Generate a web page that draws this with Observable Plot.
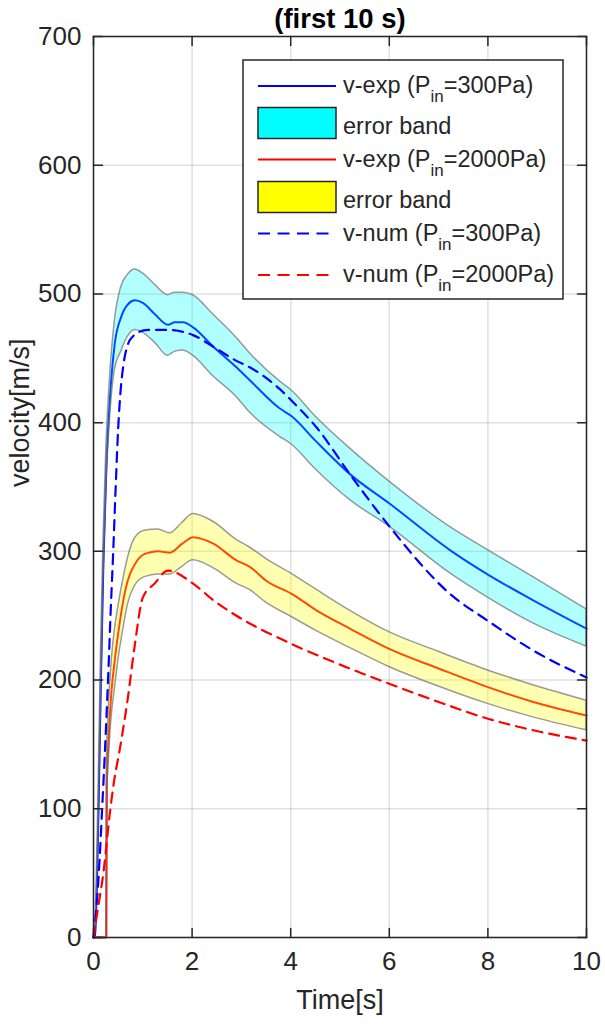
<!DOCTYPE html>
<html lang="en">
<head>
<meta charset="UTF-8">
<script src="https://cdn.jsdelivr.net/npm/d3@7"></script>
<script src="https://cdn.jsdelivr.net/npm/@observablehq/plot@0.6"></script>
<style>
  body { margin: 0; background: #fff; }
  #chart { width: 605px; height: 1024px; }
</style>
</head>
<body>
<div id="chart"></div>
<script>
// v-exp, Pin = 300 Pa : mean and error band
const tExp300  = [0, 0.03, 0.1, 0.15, 0.2, 0.26, 0.33, 0.43, 0.56, 0.7, 0.84, 1.0, 1.25, 1.51, 1.65, 1.82, 2.02, 2.43, 2.9, 3.17, 3.78, 4.02, 4.5, 5.2, 6.01, 7.23, 8, 8.92, 10];
const vExp300  = [0, 2, 96, 200, 290, 365, 417, 461, 482, 492, 495, 493, 484, 476, 478, 478, 474, 459, 443, 433, 411, 405, 386, 360, 337, 301, 282, 262, 240];
const hiExp300 = [0, 5, 110, 220, 305, 380, 432, 478, 505, 515, 519, 516, 507, 499, 501, 501, 499, 484, 466, 454, 432, 425, 405, 380, 354, 319, 301, 280, 255];
const loExp300 = [0, 0, 80, 180, 275, 350, 400, 440, 455, 467, 472, 470, 462, 452, 455, 456, 452, 436, 420, 408, 389, 383, 364, 340, 319, 283, 264, 244, 226];

// v-exp, Pin = 2000 Pa : mean and error band
const tExp2000  = [0, 0.26, 0.27, 0.3, 0.36, 0.43, 0.5, 0.63, 0.7, 0.84, 1.04, 1.31, 1.55, 1.8, 2.02, 2.43, 2.9, 3.17, 3.51, 4.02, 4.53, 5.2, 6.01, 7, 8, 8.92, 10];
const vExp2000  = [0, 0, 120, 150, 189, 215, 236, 267, 278, 290, 298, 300, 299, 306, 311, 306, 293, 288, 277, 267, 254, 240, 224, 209, 194.5, 183, 172.5];
const hiExp2000 = [0, 0, 135, 170, 210, 238, 256, 283, 295, 310, 316, 317, 314, 322, 329, 323, 309, 303, 294, 282.5, 270, 254, 237, 222, 207.5, 196, 184];
const loExp2000 = [0, 0, 105, 130, 168, 192, 214, 245, 259, 273, 280, 282, 282, 288, 293, 287, 275, 270, 260, 249, 238, 225, 210, 195, 181.5, 171, 161];

// v-num, Pin = 300 Pa
const tNum300 = [0, 0.1, 0.17, 0.25, 0.3, 0.35, 0.4, 0.45, 0.5, 0.55, 0.6, 0.7, 0.8, 0.9, 1.1, 1.5, 2.02, 2.43, 2.9, 3.17, 3.78, 4.02, 4.53, 5.2, 6.01, 7.23, 8, 8.92, 10];
const vNum300 = [0, 45, 96, 160, 205, 255, 300, 350, 395, 425, 443, 461, 467, 470, 472, 472, 468, 459, 448, 443, 426, 417, 396, 360, 319, 267, 246, 223, 202];

// v-num, Pin = 2000 Pa
const tNum2000 = [0, 0.1, 0.2, 0.33, 0.4, 0.55, 0.7, 0.84, 1.0, 1.24, 1.51, 2.02, 2.43, 2.9, 4.02, 5, 6.01, 7, 8, 8.92, 10];
const vNum2000 = [0, 25, 50, 96, 117, 150, 187, 228, 264, 275, 285, 275, 262, 250, 228, 212, 197, 183, 170, 161, 153];

const xTicks = [0, 2, 4, 6, 8, 10];
const yTicks = [0, 100, 200, 300, 400, 500, 600, 700];

const legendItems = [
  {kind: "line", color: "#0000ff", pre: "v-exp (P", sub: "in", post: "=300Pa)"},
  {kind: "box",  color: "#00ffff", pre: "error band"},
  {kind: "line", color: "#ff0000", pre: "v-exp (P", sub: "in", post: "=2000Pa)"},
  {kind: "box",  color: "#ffff00", pre: "error band"},
  {kind: "dash", color: "#0000ff", pre: "v-num (P", sub: "in", post: "=300Pa)"},
  {kind: "dash", color: "#ff0000", pre: "v-num (P", sub: "in", post: "=2000Pa)"}
];

const ink = "#262626";
const font = "'Liberation Sans', Arial, Helvetica, sans-serif";

// short inward tick, drawn with a vector mark
const tickShape = {draw(context, l) { context.moveTo(0, 0); context.lineTo(0, -l); }};
const ticks = (data, side) => Plot.vector(data, {
  [side === "left" || side === "right" ? "y" : "x"]: d => d,
  frameAnchor: side,
  rotate: {left: 90, right: -90, bottom: 0, top: 180}[side],
  length: 9, anchor: "start", shape: tickShape,
  stroke: ink, strokeWidth: 1.5, fill: "none"
});

// legend box in the upper right of the axes
function legend() {
  const rowMid  = [26, 63, 99.5, 137, 173.5, 215];
  const rowBase = [33, 73.5, 106.5, 147.5, 180.5, 222];
  const g = d3.create("svg:g")
    .attr("transform", "translate(243,60)")
    .attr("font-family", font)
    .attr("font-size", 23.5)
    .attr("text-anchor", "start")
    .attr("fill", ink);
  g.append("rect").attr("width", 320).attr("height", 239)
    .attr("fill", "#fff").attr("stroke", ink).attr("stroke-width", 1.5);
  legendItems.forEach((it, i) => {
    if (it.kind === "box") {
      g.append("rect").attr("x", 15).attr("y", rowMid[i] - 15.5).attr("width", 78).attr("height", 31)
        .attr("fill", it.color).attr("stroke", ink).attr("stroke-width", 1.5);
    } else {
      g.append("line").attr("x1", 15).attr("x2", it.kind === "dash" ? 86 : 93)
        .attr("y1", rowMid[i]).attr("y2", rowMid[i])
        .attr("stroke", it.color).attr("stroke-width", 2)
        .attr("stroke-dasharray", it.kind === "dash" ? "12,7.5" : null);
    }
    const t = g.append("text").attr("x", 100).attr("y", rowBase[i]).attr("text-anchor", "start");
    t.append("tspan").text(it.pre);
    if (it.sub) {
      t.append("tspan").attr("font-size", 17).attr("dy", 9).text(it.sub);
      t.append("tspan").attr("dy", -9).text(it.post);
    }
  });
  return g.node();
}

const plot = Plot.plot({
  width: 605,
  height: 1024,
  marginLeft: 93,
  marginRight: 19,
  marginTop: 36,
  marginBottom: 87,
  x: {domain: [0, 10]},
  y: {domain: [0, 700]},
  style: {fontFamily: font, color: ink, background: "#fff", overflow: "visible"},
  marks: [
    Plot.gridX(xTicks, {stroke: "#000", strokeOpacity: 0.12, strokeWidth: 1.5}),
    Plot.gridY(yTicks, {stroke: "#000", strokeOpacity: 0.12, strokeWidth: 1.5}),

    Plot.line(tExp300, {x: tExp300, y: vExp300, stroke: "#0000ff", strokeWidth: 2, curve: "monotone-x"}),
    Plot.line(tExp2000, {x: tExp2000, y: vExp2000, stroke: "#ff0000", strokeWidth: 2, curve: "monotone-x"}),

    Plot.areaY(tExp300, {x: tExp300, y1: loExp300, y2: hiExp300, fill: "#00ffff", fillOpacity: 0.3,
      stroke: "#707070", strokeOpacity: 0.7, strokeWidth: 1.5, curve: "monotone-x"}),
    Plot.areaY(tExp2000, {x: tExp2000, y1: loExp2000, y2: hiExp2000, fill: "#ffff00", fillOpacity: 0.3,
      stroke: "#707070", strokeOpacity: 0.7, strokeWidth: 1.5, curve: "monotone-x"}),

    Plot.line(tNum300, {x: tNum300, y: vNum300, stroke: "#0000ff", strokeWidth: 2.2,
      strokeDasharray: "10,7", curve: "monotone-x"}),
    Plot.line(tNum2000, {x: tNum2000, y: vNum2000, stroke: "#ff0000", strokeWidth: 2.2,
      strokeDasharray: "10,7", curve: "monotone-x"}),

    Plot.frame({stroke: ink, strokeWidth: 1.5}),
    ticks(xTicks, "bottom"), ticks(xTicks, "top"),
    ticks(yTicks, "left"), ticks(yTicks, "right"),

    Plot.axisX(xTicks, {tickSize: 0, tickPadding: 14, fontSize: 26, label: null}),
    Plot.axisY(yTicks, {tickSize: 0, tickPadding: 12, fontSize: 26, label: null}),

    Plot.text(["(first 10 s)"], {frameAnchor: "top", lineAnchor: "middle", dy: -17, fontSize: 27.5, fontWeight: "bold", fill: "#000"}),
    Plot.text(["Time[s]"], {frameAnchor: "bottom", lineAnchor: "middle", dy: 63, fontSize: 27}),
    Plot.text(["velocity[m/s]"], {frameAnchor: "left", lineAnchor: "middle", dx: -73, rotate: -90, fontSize: 27}),

    legend
  ]
});

document.querySelector("#chart").append(plot);
</script>
</body>
</html>
